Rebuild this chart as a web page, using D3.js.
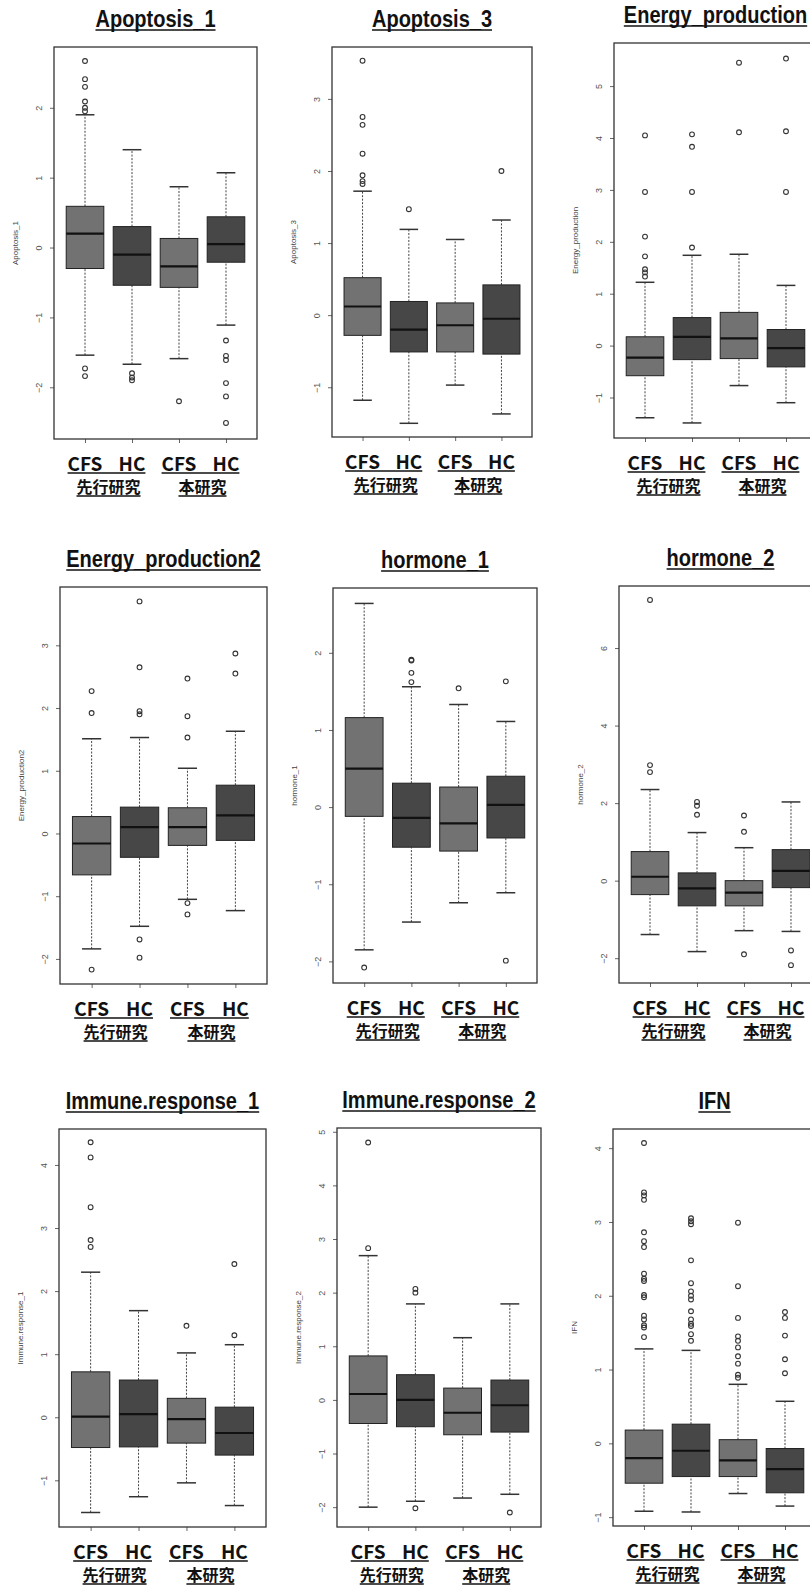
<!DOCTYPE html>
<meta charset="utf-8">
<style>
  body { margin: 0; background: #fff; }
  .title { font: bold 23px "Liberation Sans", Arial, sans-serif; fill: #111; }
  .grp { font: bold 19px "Noto Sans CJK KR", "Noto Sans", sans-serif; fill: #111; }
  .study { font: bold 16px "Noto Sans CJK JP", sans-serif; fill: #111; }
  .tick text { font: 9px "Liberation Sans", sans-serif; fill: #555; }
  .ylab { font: 8px "Liberation Sans", sans-serif; fill: #444; }
</style>
<body>
<script src="https://d3js.org/d3.v7.min.js"></script>
<script>
// group labels under each box, study labels under each pair
const groups = ["CFS", "HC", "CFS", "HC"];
const studies = ["先行研究", "本研究"];

// each box: [lower whisker, Q1, median, Q3, upper whisker]
const apoptosis1Box = [[-1.54, -0.30, 0.20, 0.59, 1.90], [-1.67, -0.54, -0.10, 0.30, 1.40], [-1.59, -0.57, -0.27, 0.13, 0.87], [-1.11, -0.21, 0.05, 0.44, 1.07]];
const apoptosis1Out = [[2.67, 2.41, 2.30, 2.09, 2.00, 1.95, -1.73, -1.84], [-1.80, -1.86, -1.90], [-2.20], [-1.33, -1.55, -1.61, -1.94, -2.13, -2.51]];
const apoptosis1Ticks = [-2, -1, 0, 1, 2];

const apoptosis3Box = [[-1.18, -0.28, 0.12, 0.52, 1.72], [-1.50, -0.51, -0.20, 0.19, 1.19], [-0.97, -0.51, -0.14, 0.17, 1.05], [-1.37, -0.54, -0.05, 0.42, 1.32]];
const apoptosis3Out = [[3.53, 2.75, 2.64, 2.24, 1.94, 1.86, 1.82], [1.47], [], [2.00]];
const apoptosis3Ticks = [-1, 0, 1, 2, 3];

const energy1Box = [[-1.39, -0.58, -0.23, 0.17, 1.22], [-1.49, -0.27, 0.17, 0.54, 1.74], [-0.77, -0.25, 0.14, 0.64, 1.76], [-1.10, -0.41, -0.05, 0.31, 1.16]];
const energy1Out = [[4.05, 2.96, 2.10, 1.72, 1.47, 1.41, 1.33], [4.07, 3.83, 2.96, 1.89], [5.45, 4.11], [5.53, 4.13, 2.96]];
const energy1Ticks = [-1, 0, 1, 2, 3, 4, 5];

const energy2Box = [[-1.84, -0.66, -0.16, 0.27, 1.51], [-1.48, -0.38, 0.10, 0.42, 1.53], [-1.05, -0.19, 0.10, 0.41, 1.04], [-1.23, -0.11, 0.29, 0.77, 1.63]];
const energy2Out = [[2.27, 1.92, -2.17], [3.70, 2.65, 1.95, 1.90, -1.69, -1.98], [2.47, 1.87, 1.53, -1.11, -1.29], [2.87, 2.55]];
const energy2Ticks = [-2, -1, 0, 1, 2, 3];

const hormone1Box = [[-1.85, -0.12, 0.50, 1.16, 2.64], [-1.49, -0.52, -0.14, 0.31, 1.56], [-1.24, -0.57, -0.21, 0.26, 1.33], [-1.11, -0.40, 0.03, 0.40, 1.11]];
const hormone1Out = [[-2.08], [1.91, 1.90, 1.74, 1.62], [1.54], [1.63, -1.99]];
const hormone1Ticks = [-2, -1, 0, 1, 2];

const hormone2Box = [[-1.39, -0.36, 0.10, 0.75, 2.35], [-1.83, -0.65, -0.20, 0.20, 1.24], [-1.29, -0.65, -0.31, 0.00, 0.85], [-1.31, -0.18, 0.25, 0.80, 2.03]];
const hormone2Out = [[7.24, 2.98, 2.80], [2.03, 1.93, 1.70], [1.68, 1.26, -1.90], [-1.80, -2.18]];
const hormone2Ticks = [-2, 0, 2, 4, 6];

const immune1Box = [[-1.51, -0.48, 0.01, 0.72, 2.30], [-1.26, -0.47, 0.05, 0.59, 1.69], [-1.04, -0.41, -0.03, 0.30, 1.02], [-1.40, -0.60, -0.25, 0.16, 1.15]];
const immune1Out = [[4.36, 4.12, 3.33, 2.81, 2.70], [], [1.45], [2.43, 1.30]];
const immune1Ticks = [-1, 0, 1, 2, 3, 4];

const immune2Box = [[-2.00, -0.44, 0.11, 0.82, 2.69], [-1.89, -0.50, 0.00, 0.47, 1.79], [-1.83, -0.65, -0.24, 0.22, 1.16], [-1.76, -0.60, -0.10, 0.37, 1.79]];
const immune2Out = [[4.80, 2.83], [2.07, 2.00, -2.02], [], [-2.10]];
const immune2Ticks = [-2, -1, 0, 1, 2, 3, 4, 5];

const ifnBox = [[-0.92, -0.54, -0.20, 0.18, 1.28], [-0.93, -0.45, -0.10, 0.26, 1.26], [-0.68, -0.45, -0.23, 0.05, 0.80], [-0.85, -0.67, -0.35, -0.07, 0.57]];
const ifnOut = [[4.07, 3.40, 3.36, 3.30, 2.86, 2.74, 2.66, 2.30, 2.23, 2.20, 2.01, 1.98, 1.73, 1.68, 1.60, 1.57, 1.44],
                [3.05, 3.01, 2.97, 2.48, 2.17, 2.06, 2.00, 1.95, 1.79, 1.68, 1.62, 1.59, 1.48, 1.39],
                [2.99, 2.13, 1.70, 1.45, 1.39, 1.30, 1.18, 1.08, 0.93, 0.89],
                [1.78, 1.70, 1.46, 1.14, 0.95]];
const ifnTicks = [-1, 0, 1, 2, 3, 4];

const panels = [
    {name: "Apoptosis_1", box: apoptosis1Box, out: apoptosis1Out, ticks: apoptosis1Ticks},
    {name: "Apoptosis_3", box: apoptosis3Box, out: apoptosis3Out, ticks: apoptosis3Ticks},
    {name: "Energy_production", box: energy1Box, out: energy1Out, ticks: energy1Ticks},
    {name: "Energy_production2", box: energy2Box, out: energy2Out, ticks: energy2Ticks},
    {name: "hormone_1", box: hormone1Box, out: hormone1Out, ticks: hormone1Ticks},
    {name: "hormone_2", box: hormone2Box, out: hormone2Out, ticks: hormone2Ticks},
    {name: "Immune.response_1", box: immune1Box, out: immune1Out, ticks: immune1Ticks},
    {name: "Immune.response_2", box: immune2Box, out: immune2Out, ticks: immune2Ticks},
    {name: "IFN", box: ifnBox, out: ifnOut, ticks: ifnTicks}
];

// plot frame of each panel (pixels) and its y range
const frames = [
    {x: 54,  y: 47,   w: 203, h: 392, lo: -2.74, hi: 2.87},
    {x: 332, y: 47,   w: 200, h: 390, lo: -1.69, hi: 3.72},
    {x: 614, y: 43,   w: 203, h: 395, lo: -1.78, hi: 5.83},
    {x: 60,  y: 587,  w: 207, h: 397, lo: -2.40, hi: 3.93},
    {x: 333, y: 588,  w: 204, h: 395, lo: -2.28, hi: 2.84},
    {x: 619, y: 586,  w: 203, h: 397, lo: -2.64, hi: 7.60},
    {x: 59,  y: 1129, w: 207, h: 398, lo: -1.74, hi: 4.57},
    {x: 337, y: 1128, w: 204, h: 399, lo: -2.37, hi: 5.07},
    {x: 613, y: 1129, w: 203, h: 397, lo: -1.12, hi: 4.26}
];

const fills = ["#727272", "#474747", "#727272", "#474747"];

let svg = d3.select("body").append("svg")
    .attr("width", 810)
    .attr("height", 1585);

function drawPanel(p, f) {
    let g = svg.append("g");
    let x = d3.scaleLinear().domain([0.34, 4.66]).range([f.x, f.x + f.w]);
    let y = d3.scaleLinear().domain([f.lo, f.hi]).range([f.y + f.h, f.y]);
    let hw = x(1.4) - x(1);   // half box width

    // title, a bit narrow like the original
    let cx = f.x + f.w / 2;
    let t = g.append("text").attr("class", "title")
        .attr("text-anchor", "middle")
        .attr("transform", "translate(" + cx + "," + (f.y - 20) + ") scale(0.87,1)")
        .text(p.name);
    let tw = t.node().getBBox().width * 0.87;
    g.append("line")
        .attr("x1", cx - tw / 2).attr("x2", cx + tw / 2)
        .attr("y1", f.y - 17).attr("y2", f.y - 17)
        .attr("stroke", "#111").attr("stroke-width", 1.5);

    // y axis with rotated labels
    let ya = g.append("g")
        .attr("transform", "translate(" + f.x + ",0)")
        .call(d3.axisLeft(y).tickValues(p.ticks).tickSize(4).tickFormat(d3.format("d")));
    ya.select(".domain").remove();
    ya.selectAll("line").attr("stroke", "#666");
    ya.selectAll("text")
        .attr("transform", "rotate(-90)")
        .attr("text-anchor", "middle")
        .attr("x", 0).attr("y", -12).attr("dy", 0);

    g.append("text").attr("class", "ylab")
        .attr("text-anchor", "middle")
        .attr("transform", "translate(" + (f.x - 36) + "," + (f.y + f.h / 2) + ") rotate(-90)")
        .text(p.name);

    // x ticks
    let xa = g.append("g")
        .attr("transform", "translate(0," + (f.y + f.h) + ")")
        .call(d3.axisBottom(x).tickValues([1, 2, 3, 4]).tickSize(4).tickFormat(""));
    xa.select(".domain").remove();
    xa.selectAll("line").attr("stroke", "#666");

    // whiskers
    p.box.forEach(function(b, i) {
        let cxb = x(i + 1);
        [[b[0], b[1]], [b[3], b[4]]].forEach(function(seg) {
            g.append("line")
                .attr("x1", cxb).attr("x2", cxb)
                .attr("y1", y(seg[0])).attr("y2", y(seg[1]))
                .attr("stroke", "#444").attr("stroke-width", 1)
                .attr("stroke-dasharray", "2,1.5");
        });
        [b[0], b[4]].forEach(function(v) {
            g.append("line")
                .attr("x1", cxb - hw / 2).attr("x2", cxb + hw / 2)
                .attr("y1", y(v)).attr("y2", y(v))
                .attr("stroke", "#333").attr("stroke-width", 1.5);
        });
    });

    // boxes
    g.selectAll("rect.box")
        .data(p.box)
        .join("rect")
            .attr("class", "box")
            .attr("x", (d, i) => x(i + 1) - hw)
            .attr("width", hw * 2)
            .attr("y", d => y(d[3]))
            .attr("height", d => y(d[1]) - y(d[3]))
            .attr("fill", (d, i) => fills[i])
            .attr("stroke", "#222").attr("stroke-width", 1);

    g.selectAll("line.med")
        .data(p.box)
        .join("line")
            .attr("class", "med")
            .attr("x1", (d, i) => x(i + 1) - hw).attr("x2", (d, i) => x(i + 1) + hw)
            .attr("y1", d => y(d[2])).attr("y2", d => y(d[2]))
            .attr("stroke", "#111").attr("stroke-width", 2.2);

    // outliers
    p.out.forEach(function(vals, i) {
        g.selectAll(null)
            .data(vals)
            .join("circle")
                .attr("cx", x(i + 1))
                .attr("cy", d => y(d))
                .attr("r", 2.4)
                .attr("fill", "none")
                .attr("stroke", "#333").attr("stroke-width", 1.1);
    });

    // frame
    g.append("rect")
        .attr("x", f.x).attr("y", f.y).attr("width", f.w).attr("height", f.h)
        .attr("fill", "none").attr("stroke", "#333").attr("stroke-width", 1.3);

    // group labels + study labels, underlined
    let base = f.y + f.h;
    [0, 1].forEach(function(s) {
        let a = g.append("text").attr("class", "grp").attr("text-anchor", "middle")
            .attr("x", x(2 * s + 1)).attr("y", base + 32).text(groups[2 * s]);
        let b = g.append("text").attr("class", "grp").attr("text-anchor", "middle")
            .attr("x", x(2 * s + 2)).attr("y", base + 32).text(groups[2 * s + 1]);
        let ba = a.node().getBBox(), bb = b.node().getBBox();
        g.append("line")
            .attr("x1", ba.x).attr("x2", bb.x + bb.width)
            .attr("y1", base + 34).attr("y2", base + 34)
            .attr("stroke", "#111").attr("stroke-width", 1.5);
        let mx = (x(2 * s + 1) + x(2 * s + 2)) / 2;
        let st = g.append("text").attr("class", "study").attr("text-anchor", "middle")
            .attr("x", mx).attr("y", base + 54).text(studies[s]);
        let bs = st.node().getBBox();
        g.append("line")
            .attr("x1", bs.x).attr("x2", bs.x + bs.width)
            .attr("y1", base + 57).attr("y2", base + 57)
            .attr("stroke", "#111").attr("stroke-width", 1.3);
    });
}

panels.forEach((p, i) => drawPanel(p, frames[i]));
</script>
</body>
